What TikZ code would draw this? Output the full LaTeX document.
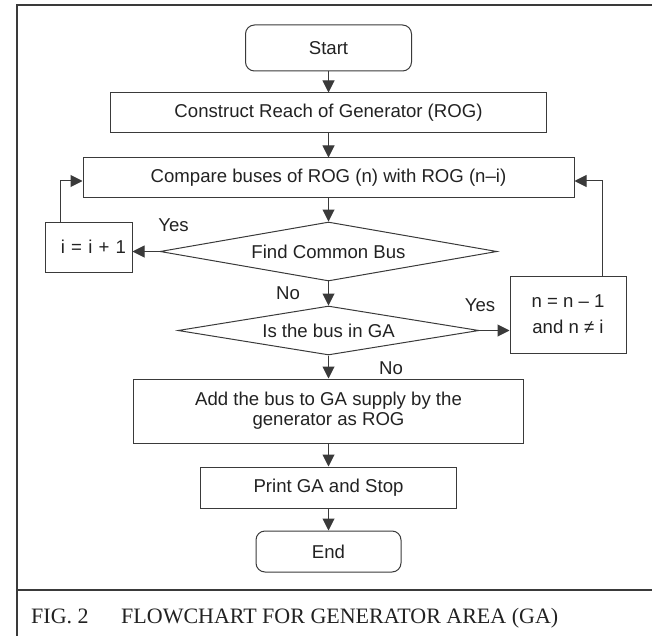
\documentclass[tikz,border=0pt]{standalone}
\usepackage{fontspec}
\setmainfont{Liberation Sans}
\newfontfamily\capfont{Liberation Serif}
\usetikzlibrary{shapes.geometric,arrows.meta,calc}

\definecolor{ink}{HTML}{222222}
\definecolor{rule}{HTML}{3A3A3A}

\tikzset{
  every node/.style={text=ink, font=\fontsize{18.6}{22}\selectfont},
  stepbox/.style={draw=rule, line width=1pt, rectangle, inner sep=0pt, align=center},
  termbox/.style={stepbox, rounded corners=9pt},
  decision/.style={draw=rule, line width=1pt, diamond, inner sep=0pt, shape aspect=6},
  arr/.style={draw=rule, line width=1pt, -{Triangle[length=12pt,width=12pt]}},
  frameline/.style={draw=rule, line width=1.8pt},
  lbl/.style={inner sep=0pt}
}

\begin{document}
\begin{tikzpicture}[x=1pt,y=-1pt]
  \useasboundingbox (0,0) rectangle (652,636);

  % outer frame and caption rule
  \draw[frameline] (652,5) -- (16.6,5) -- (16.6,636);
  \draw[frameline] (16.6,590) -- (652,590);

  % process steps, all centred on one vertical axis
  \node[termbox, minimum width=166pt, minimum height=46pt] (start) at (328.5,48) {Start};
  \node[stepbox, minimum width=436pt, minimum height=40pt] (construct) at (328.5,113) {Construct Reach of Generator (ROG)};
  \node[stepbox, minimum width=491pt, minimum height=40pt] (compare) at (328.5,178) {Compare buses of ROG (n) with ROG (n–i)};
  \node[decision, minimum width=337pt, minimum height=59pt] (find) at (328.5,251.5) {Find Common Bus};
  \node[stepbox, minimum width=87pt, minimum height=50pt, text width=75pt, align=right, inner xsep=6pt] (inc) at (88.5,247) {i = i + 1};
  \node[decision, minimum width=301pt, minimum height=49pt] (inga) at (328.5,330.5) {Is the bus in GA};
  \node[stepbox, minimum width=116pt, minimum height=77pt, font=\fontsize{18.6}{26}\selectfont] (dec) at (568,314.5) {n = n – 1\\and n ≠ i};
  \node[stepbox, minimum width=390pt, minimum height=64pt, font=\fontsize{18.6}{20}\selectfont] (add) at (328.5,411) {Add the bus to GA supply by the\\generator as ROG};
  \node[stepbox, minimum width=256pt, minimum height=41pt] (print) at (328.5,487.5) {Print GA and Stop};
  \node[termbox, minimum width=145pt, minimum height=41pt] (end) at (328.5,551.5) {End};

  % branch labels
  \node[lbl] (yes1) at (173.5,225) {Yes};
  \node[lbl] (no1) at (288,293) {No};
  \node[lbl] (yes2) at (480,305) {Yes};
  \node[lbl] (no2) at (391,368) {No};

  % feedback corners
  \coordinate (lp) at (60,181);
  \coordinate (rp) at (602,181);

  % main flow
  \draw[arr] (start) -- (construct);
  \draw[arr] (construct) -- (compare);
  \draw[arr] (compare) -- (find);
  \draw[arr] (find) -- (inga);
  \draw[arr] (inga) -- (add);
  \draw[arr] (add) -- (print);
  \draw[arr] (print) -- (end);

  % branches
  \draw[arr] (find.west) -- (inc.east |- find.west);
  \draw[arr] (inga.east) -- (dec.west |- inga.east);

  % loops back to the comparison
  \draw[arr] (inc.north -| lp) -- (lp) -- (compare.west |- lp);
  \draw[arr] (dec.north -| rp) -- (rp) -- (compare.east |- rp);

  % caption
  \node[lbl, anchor=base west, font=\capfont\fontsize{22}{26}\selectfont] (fig) at (31,623) {FIG. 2};
  \node[lbl, anchor=base west, font=\capfont\fontsize{22}{26}\selectfont] (title) at (121,623) {FLOWCHART FOR GENERATOR AREA (GA)};
\end{tikzpicture}
\end{document}
